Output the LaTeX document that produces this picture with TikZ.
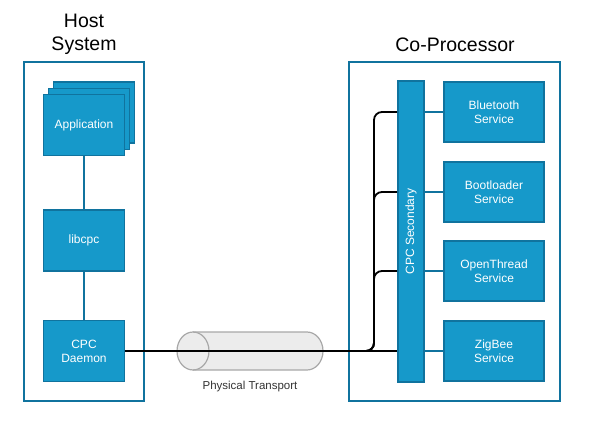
\documentclass[tikz,border=0pt]{standalone}
\usepackage{fontspec}
\setmainfont{Liberation Sans}
\usepackage{graphicx}
\usepackage{xcolor}
\usetikzlibrary{positioning, calc}
\definecolor{boxfill}{HTML}{1699CA}
\definecolor{boxline}{HTML}{10739E}
\definecolor{pipefill}{HTML}{ECECEC}
\definecolor{pipeline}{HTML}{A8A8A8}
\tikzset{every picture/.style={font issue=\fontsize{12}{14}},
         font issue/.style={execute at begin picture={#1\selectfont}},
         block/.style={draw=boxline, fill=boxfill, line width=1.6pt, text=white, align=center, inner sep=0, minimum width=81, minimum height=61},
         service/.style={block, minimum width=100, minimum height=60},
         frame/.style={draw=boxline, line width=1.6pt, minimum width=120, minimum height=339},
         title/.style={align=center, font=\fontsize{19.5}{23}\selectfont},
         link/.style={draw=boxline, line width=1.8pt},
         wire/.style={draw=black, line width=1.8pt}
        }
\begin{document}
\begin{tikzpicture}[x=1pt, y=-1pt]
\useasboundingbox (0,0) rectangle (599,425);
\node[title] at (84,34)(hosttitle){Host\\System};
\node[title] at (455,45)(cotitle){Co-Processor};
\node[frame] at (84,231.5)(host){};
\node[frame, minimum width=211] at (454.5,231.5)(copro){};
\node[block] at (94,112.5)(appback){};
\node[block] at (89,119)(appmid){};
\node[block] at (84,125)(app){Application};
\node[block] at (84,240.5)(libcpc){libcpc};
\node[block] at (84,351)(daemon){CPC\\Daemon};
\draw[link] (app.south) -- (libcpc.north);
\draw[link] (libcpc.south) -- (daemon.north);
\node[block, minimum width=26, minimum height=301] at (411,231.5)(secondary){\rotatebox{90}{CPC Secondary}};
\node[service] at (494,112)(bt){Bluetooth\\Service};
\node[service] at (494,192)(boot){Bootloader\\Service};
\node[service] at (494,271)(ot){OpenThread\\Service};
\node[service] at (494,351)(zb){ZigBee\\Service};
\foreach \s in {bt, boot, ot, zb}
  \draw[link] (secondary.east |- \s.west) -- (\s.west);
\draw[draw=pipeline, fill=pipefill, line width=1.2pt] (193,332) -- (307,332) arc (-90:90:16 and 19) -- (193,370) arc (90:270:16 and 19) -- cycle;
\draw[draw=pipeline, line width=1.2pt] (193,332) arc (-90:90:16 and 19);
\node[font=\fontsize{11.5}{13}\selectfont, text=black!80] at (250,387)(transport){Physical Transport};
\coordinate (trunk) at (374,351);
\draw[wire] (daemon.east) -- (daemon.east -| secondary.west);
\foreach \s in {bt, boot, ot}
  \draw[wire, rounded corners=8] (daemon.east) -- (trunk) |- (\s.west -| secondary.west);
\end{tikzpicture}
\end{document}
